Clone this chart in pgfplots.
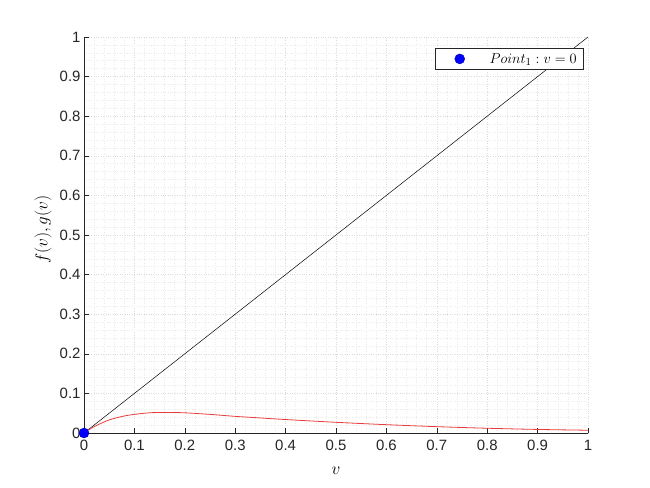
\documentclass[border=0pt]{standalone}
\usepackage{pgfplots}
\pgfplotsset{compat=1.18}
\usepackage{fontspec}
\setmainfont{Liberation Sans}
\definecolor{axgray}{RGB}{38,38,38}
\definecolor{mred}{RGB}{232,60,60}
\begin{document}
\begin{tikzpicture}[x=1bp,y=1bp]
\useasboundingbox (-84,-55) rectangle (566,433);
\begin{axis}[at={(0,0)}, anchor=south west, scale only axis,
  width=504bp, height=396bp,
  xmin=0, xmax=1, ymin=0, ymax=1,
  axis x line*=bottom, axis y line*=left,
  axis line style={axgray, line width=0.5pt},
  tick style={axgray, line width=0.5pt},
  tick align=inside,
  major tick length=5bp,
  minor tick length=0pt,
  xtick={0,0.1,0.2,0.3,0.4,0.5,0.6,0.7,0.8,0.9,1},
  ytick={0,0.1,0.2,0.3,0.4,0.5,0.6,0.7,0.8,0.9,1},
  xticklabels={0,0.1,0.2,0.3,0.4,0.5,0.6,0.7,0.8,0.9,1},
  yticklabels={0,0.1,0.2,0.3,0.4,0.5,0.6,0.7,0.8,0.9,1},
  /pgf/number format/assume math mode=true,
  minor tick num=4,
  grid=both,
  major grid style={dotted, gray!28, line width=0.5pt},
  minor grid style={dotted, gray!16, line width=0.5pt},
  tick label style={font=\fontsize{15}{17}\selectfont, text=axgray},
  xticklabel style={yshift=-4bp},
  xlabel={$v$}, ylabel={$f(v),g(v)$},
  label style={font=\fontsize{16}{18}\selectfont},
  xlabel style={at={(axis description cs:0.5,-0.096)}, anchor=center},
  ylabel style={at={(axis description cs:-0.081,0.513)}, anchor=center},
  clip=false,
  legend style={at={(0.99,0.972)}, anchor=north east, draw=axgray,
    font=\fontsize{15.5}{17}\selectfont, inner xsep=4bp, inner ysep=3bp,
    legend cell align=left},
  legend image code/.code={\path[mark repeat=2, mark phase=2, #1] plot coordinates {(0bp,0bp) (21bp,0bp) (49bp,0bp)};},
]
\addplot[black, line width=0.5pt, forget plot] coordinates {(0,0) (1,1)};
\addplot[mred, line width=0.8pt, smooth, forget plot] coordinates {
(0,0) (0.02,0.016) (0.05,0.033) (0.08,0.043) (0.1,0.047) (0.13,0.051)
(0.16,0.052) (0.2,0.051) (0.25,0.047) (0.3,0.042) (0.35,0.038) (0.4,0.034)
(0.5,0.027) (0.6,0.021) (0.7,0.016) (0.8,0.012) (0.9,0.009) (1.0,0.007)};
\addplot[draw=none, mark=*, mark size=5bp, mark options={fill=blue, draw=blue!70!black}] coordinates {(0,0)};
\addlegendentry{$Point_1: v=0$}
\end{axis}
\end{tikzpicture}
\end{document}
